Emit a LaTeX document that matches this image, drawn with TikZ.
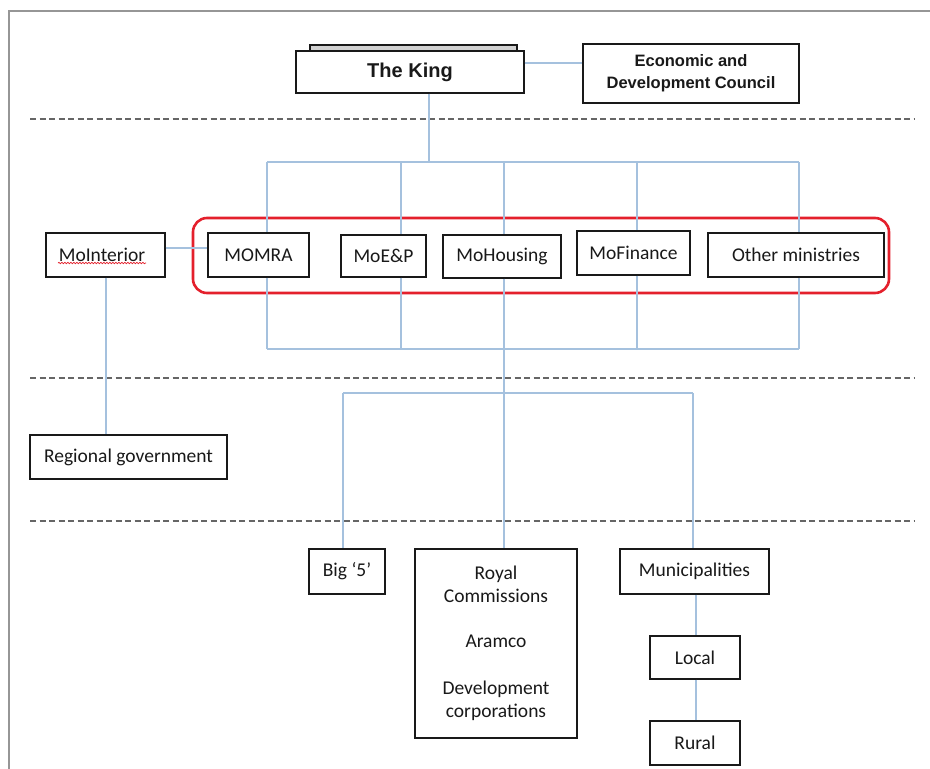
\documentclass[tikz,border=0pt]{standalone}
\usepackage{fontspec}
\setmainfont{Carlito}
\newfontfamily\headfont{Liberation Sans}
\usetikzlibrary{decorations.pathmorphing}
\definecolor{linkblue}{RGB}{165,193,222}
\definecolor{frame}{RGB}{150,150,150}
\definecolor{groupred}{RGB}{228,32,44}
\definecolor{ink}{RGB}{25,25,25}
\begin{document}
\begin{tikzpicture}[x=1pt,y=-1pt,
  box/.style={draw=ink, line width=1.3pt, fill=white, inner sep=0pt, text=ink,
    font=\fontsize{19.5}{23}\selectfont},
  headbox/.style={box, font=\headfont\bfseries\fontsize{16.5}{22}\selectfont},
  link/.style={draw=linkblue, line width=1.1pt},
  levelsep/.style={draw=black!60, line width=1.8pt, dash pattern=on 6pt off 3.5pt},
  group/.style={draw=groupred, line width=2.6pt, rounded corners=14pt},
]
\useasboundingbox (0,0) rectangle (930,769);

% page frame (top and left edges)
\draw[frame, line width=2pt] (9,769) -- (9,11) -- (930,11);

% level separators
\draw[levelsep] (30,119) -- (915,119);
\draw[levelsep] (30,378) -- (915,378);
\draw[levelsep] (30,521) -- (915,521);

% ministries group outline
\draw[group] (193,218) rectangle (889,293);

% bus coordinates
\coordinate (kingdrop) at (429,162);
\coordinate (busTL) at (267,162);
\coordinate (busTR) at (799,162);
\coordinate (busBL) at (267,349);
\coordinate (busBR) at (799,349);
\coordinate (v1t) at (267,162); \coordinate (v1b) at (267,349);
\coordinate (v2t) at (401,162); \coordinate (v2b) at (401,349);
\coordinate (v3t) at (504,162); \coordinate (v3b) at (504,349);
\coordinate (v4t) at (637,162); \coordinate (v4b) at (637,349);
\coordinate (v5t) at (799,162); \coordinate (v5b) at (799,349);
\coordinate (lowL) at (343,393);
\coordinate (lowR) at (693,393);
\coordinate (lowM) at (504,393);
\coordinate (intdrop) at (106,300);
\coordinate (munidrop) at (696,600);

% top of hierarchy
\node[box, fill=black!18, minimum width=207, minimum height=6] (kingtab) at (413.5,48) {};
\node[headbox, font=\headfont\bfseries\fontsize{20}{24}\selectfont,
  minimum width=228, minimum height=42] (king) at (410,72) {The King};
\node[headbox, align=center, minimum width=216, minimum height=59] (edc) at (691,73.5)
  {Economic and\\Development Council};

% ministries
\node[box, minimum width=119, minimum height=44] (mointerior) at (105.5,255) {\hspace*{-7pt}MoInterior};
\node[box, minimum width=101, minimum height=44] (momra) at (258.5,255) {MOMRA};
\node[box, minimum width=85, minimum height=42] (moep) at (383.5,256) {MoE\&P};
\node[box, minimum width=118, minimum height=43] (mohousing) at (502,256.5) {MoHousing};
\node[box, minimum width=113, minimum height=44] (mofinance) at (633.5,253) {MoFinance};
\node[box, minimum width=176, minimum height=44] (other) at (796,255) {Other ministries};

% spelling mark under MoInterior
\draw[groupred, line width=0.7pt, decorate,
  decoration={snake, amplitude=0.7pt, segment length=3pt}]
  (58,263) -- (146,263);

% regional and lower level
\node[box, minimum width=197, minimum height=44] (regional) at (128.5,457) {Regional government};
\node[box, minimum width=76, minimum height=45] (big5) at (347,571.5) {Big ‘5’};
\node[box, align=center, minimum width=162, minimum height=189] (royal) at (496,643.5)
  {Royal\\Commissions\\[22pt]Aramco\\[24pt]Development\\corporations};
\node[box, minimum width=149, minimum height=45] (muni) at (694.5,571.5) {Municipalities};
\node[box, minimum width=90, minimum height=43] (local) at (695,657.5) {Local};
\node[box, minimum width=90, minimum height=44] (rural) at (695,743) {Rural};

% connectors
\draw[link] ([yshift=9pt]king.east) -- ([yshift=9pt]king.east -| edc.west);
\draw[link] (king.south -| kingdrop) -- (kingdrop);
\draw[link] (busTL) -- (busTR);
\draw[link] (busBL) -- (busBR);
\foreach \n/\t/\b in {momra/v1t/v1b, moep/v2t/v2b, mohousing/v3t/v3b, mofinance/v4t/v4b, other/v5t/v5b}{
  \draw[link] (\t) -- (\n.north -| \t);
  \draw[link] (\n.south -| \b) -- (\b);
}
\draw[link] (v3b) -- (lowM);
\draw[link] (lowM) -- (royal.north -| lowM);
\draw[link] (lowL) -- (lowR);
\draw[link] (lowL) -- (big5.north -| lowL);
\draw[link] (lowR) -- (muni.north -| lowR);
\draw[link] ([yshift=7pt]mointerior.east) -- ([yshift=7pt]mointerior.east -| momra.west);
\draw[link] (mointerior.south -| intdrop) -- (regional.north -| intdrop);
\draw[link] (muni.south -| munidrop) -- (local.north -| munidrop);
\draw[link] (local.south -| munidrop) -- (rural.north -| munidrop);
\end{tikzpicture}
\end{document}
